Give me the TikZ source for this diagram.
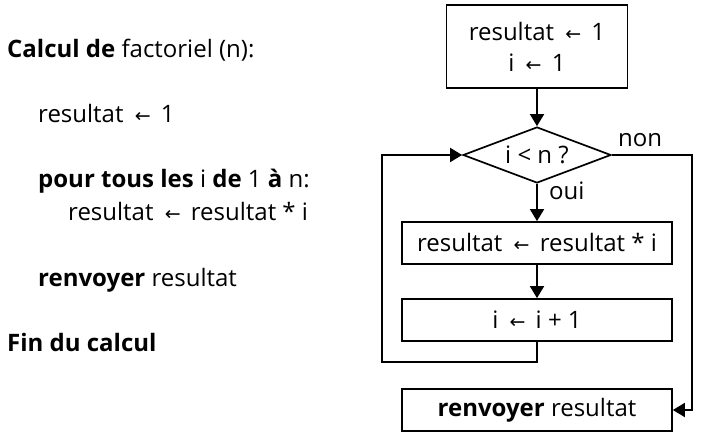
\documentclass[tikz,border=0pt]{standalone}
\usepackage{fontspec}
\setmainfont{Open Sans}
\newfontfamily\arrfont{DejaVu Sans}
\usetikzlibrary{arrows.meta,shapes.geometric}
\newcommand{\la}{\hspace{5pt}{\arrfont\fontsize{19}{19}\selectfont ←}\hspace{4pt}}
\begin{document}
\begin{tikzpicture}[x=1pt,y=-1pt,
  every node/.style={font=\fontsize{24}{30}\selectfont, inner sep=0pt},
  box/.style={draw, line width=1.7pt, minimum height=42pt, minimum width=270pt},
  conn/.style={line width=1.7pt},
  arr/.style={conn, -{Triangle[length=12pt,width=14pt]}},
  txt/.style={anchor=base west}]
\useasboundingbox (0,0) rectangle (702,443);
% left pseudo-code
\node[txt] (t1) at (7,58) {\textbf{Calcul de} factoriel (n):};
\node[txt] (t2) at (38,123) {resultat \la\ 1};
\node[txt] (t3) at (38,188) {\textbf{pour tous les} i \textbf{de} 1 \textbf{à} n:};
\node[txt] (t4) at (68,221) {resultat \la\ resultat * i};
\node[txt] (t5) at (38,287) {\textbf{renvoyer} resultat};
\node[txt] (t6) at (7,352) {\textbf{Fin du calcul}};
% flowchart
\node[draw, line width=1.7pt, minimum width=181pt, minimum height=83pt, align=center] (init) at (537,46.5) {resultat \la\ 1\\[1pt] i \la\ 1};
\node[draw, line width=1.7pt, diamond, minimum width=148pt, minimum height=56pt, inner sep=0pt] (cond) at (537,155) {};
\node (condt) at (537,155) {i < n ?};
\node[box] (body) at (537,243) {resultat \la\ resultat * i};
\node[box] (inc) at (537,320) {i \la\ i + 1};
\node[box] (ret) at (537,410) {\textbf{renvoyer} resultat};
\coordinate (r1) at (692,155);
\coordinate (r2) at (692,410);
\coordinate (l1) at (537,362);
\coordinate (l2) at (382,362);
\coordinate (l3) at (382,155);
\draw[arr] (init.south) -- (cond.north);
\draw[arr] (cond.south) -- (body.north);
\draw[arr] (body.south) -- (inc.north);
\draw[arr] (cond.east) -- (r1) -- (r2) -- (ret.east);
\draw[arr] (inc.south) -- (l1) -- (l2) -- (l3) -- (cond.west);
\node[anchor=base west] (non) at (618,147) {non};
\node[anchor=base west] (oui) at (549,200) {oui};
\end{tikzpicture}
\end{document}
